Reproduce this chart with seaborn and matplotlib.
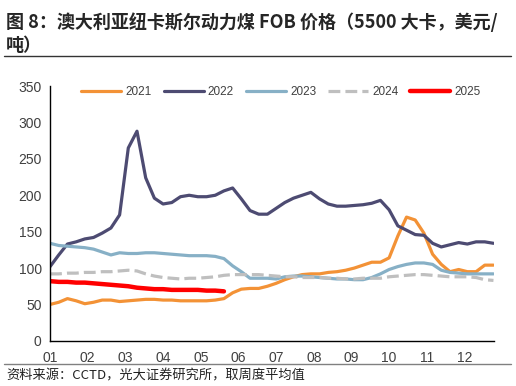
import numpy as np
import pandas as pd
import seaborn as sns
import matplotlib
matplotlib.use("Agg")
import matplotlib.pyplot as plt

# 周度数据（取周度平均值），单位：美元/吨
y2021 = [50, 53, 58, 55, 51, 53, 56, 56, 54, 55, 56, 57, 57, 56, 56, 55, 55, 55, 55, 56,
         58, 66, 71, 72, 72, 75, 79, 84, 88, 91, 92, 92, 94, 95, 97, 100, 104, 108, 108, 114,
         144, 170, 166, 148, 119, 105, 95, 98, 95, 95, 104, 104]
y2022 = [102, 118, 133, 136, 140, 142, 148, 155, 173, 265, 288, 224, 196, 188, 190, 198, 200, 198, 198, 200,
         206, 210, 195, 179, 174, 174, 182, 190, 196, 200, 204, 195, 188, 185, 185, 186, 187, 189, 193, 180,
         158, 152, 146, 145, 134, 129, 132, 135, 133, 136, 136, 134]
y2023 = [134, 131, 130, 129, 128, 126, 122, 118, 121, 120, 120, 121, 121, 120, 119, 118, 117, 117, 117, 116,
         113, 103, 95, 86, 86, 86, 85, 88, 89, 89, 88, 87, 86, 85, 85, 84, 84, 87, 92, 98,
         102, 105, 107, 107, 105, 97, 94, 93, 92, 92, 92, 92]
y2024 = [92, 92, 93, 93, 94, 94, 95, 95, 96, 97, 96, 92, 89, 87, 86, 85, 86, 86, 87, 88,
         90, 91, 91, 91, 91, 90, 89, 88, 88, 87, 87, 87, 86, 86, 85, 85, 86, 86, 86, 88,
         89, 90, 91, 91, 90, 89, 88, 88, 88, 87, 84, 83]
y2025 = [82, 81, 81, 80, 80, 79, 78, 77, 76, 75, 73, 72, 71, 71, 70, 70, 70, 70, 69, 69, 68]

years = ["2021", "2022", "2023", "2024", "2025"]
series = [y2021, y2022, y2023, y2024, y2025]
month_labels = ["01", "02", "03", "04", "05", "06", "07", "08", "09", "10", "11", "12"]

colors = ["#F39236", "#4D4B72", "#87B0C6", "#BFBFBF", "#FF0000"]
widths = [2.3, 2.3, 2.3, 2.3, 3.2]
styles = ["-", "-", "-", "--", "-"]

sns.set_style("white")
plt.rcParams['font.family'] = ['Liberation Sans', 'Noto Sans CJK SC', 'DejaVu Sans']

fig = plt.figure(figsize=(5.16, 3.86), dpi=100)
ax = fig.add_axes([0.097, 0.117, 0.861, 0.660])

for yr, vals, c, lw, ls in zip(years, series, colors, widths, styles):
    df = pd.DataFrame({"week": np.arange(len(vals)), "price": vals})
    sns.lineplot(data=df, x="week", y="price", ax=ax, color=c, lw=lw, ls=ls, label=yr)

ax.set_xlim(0, 51.1)
ax.set_ylim(0, 350)
ax.set_yticks(range(0, 351, 50))
ax.set_xticks([i * 52 / 12 for i in range(12)])
ax.set_xticklabels(month_labels)
ax.set_xlabel("")
ax.set_ylabel("")
for s in ["top", "right"]:
    ax.spines[s].set_visible(False)
for s in ["left", "bottom"]:
    ax.spines[s].set_color("black")
    ax.spines[s].set_linewidth(1.0)
ax.tick_params(axis="both", direction="in", length=3, width=0.8, colors="black",
               labelcolor="#404040", labelsize=10)
ax.tick_params(axis="x", pad=7)
ax.tick_params(axis="y", pad=6)

leg = ax.legend(loc="center", bbox_to_anchor=(0.52, 0.975), ncol=5, frameon=False,
                handlelength=3.4, columnspacing=1.0, handletextpad=0.35, fontsize=8.5,
                borderpad=0.1)
for t in leg.get_texts():
    t.set_color("#404040")

fig.text(0.012, 0.968, "图 8：澳大利亚纽卡斯尔动力煤 FOB 价格（5500 大卡，美元/",
         fontsize=13, fontweight="bold", va="top", ha="left",
         family=['Noto Sans CJK SC', 'DejaVu Sans'])
fig.text(0.012, 0.908, "吨）", fontsize=13, fontweight="bold", va="top", ha="left",
         family=['Noto Sans CJK SC', 'DejaVu Sans'])
fig.add_artist(plt.Line2D([0.008, 0.99], [0.855, 0.855], color="#333333", lw=1.0))
fig.add_artist(plt.Line2D([0.008, 0.99], [0.057, 0.057], color="#808080", lw=1.0))
fig.text(0.012, 0.027, "资料来源：CCTD，光大证券研究所，取周度平均值", fontsize=9.5,
         va="center", ha="left", color="#222222",
         family=['Noto Sans CJK SC', 'DejaVu Sans'])

fig.savefig("out.png", dpi=100)
